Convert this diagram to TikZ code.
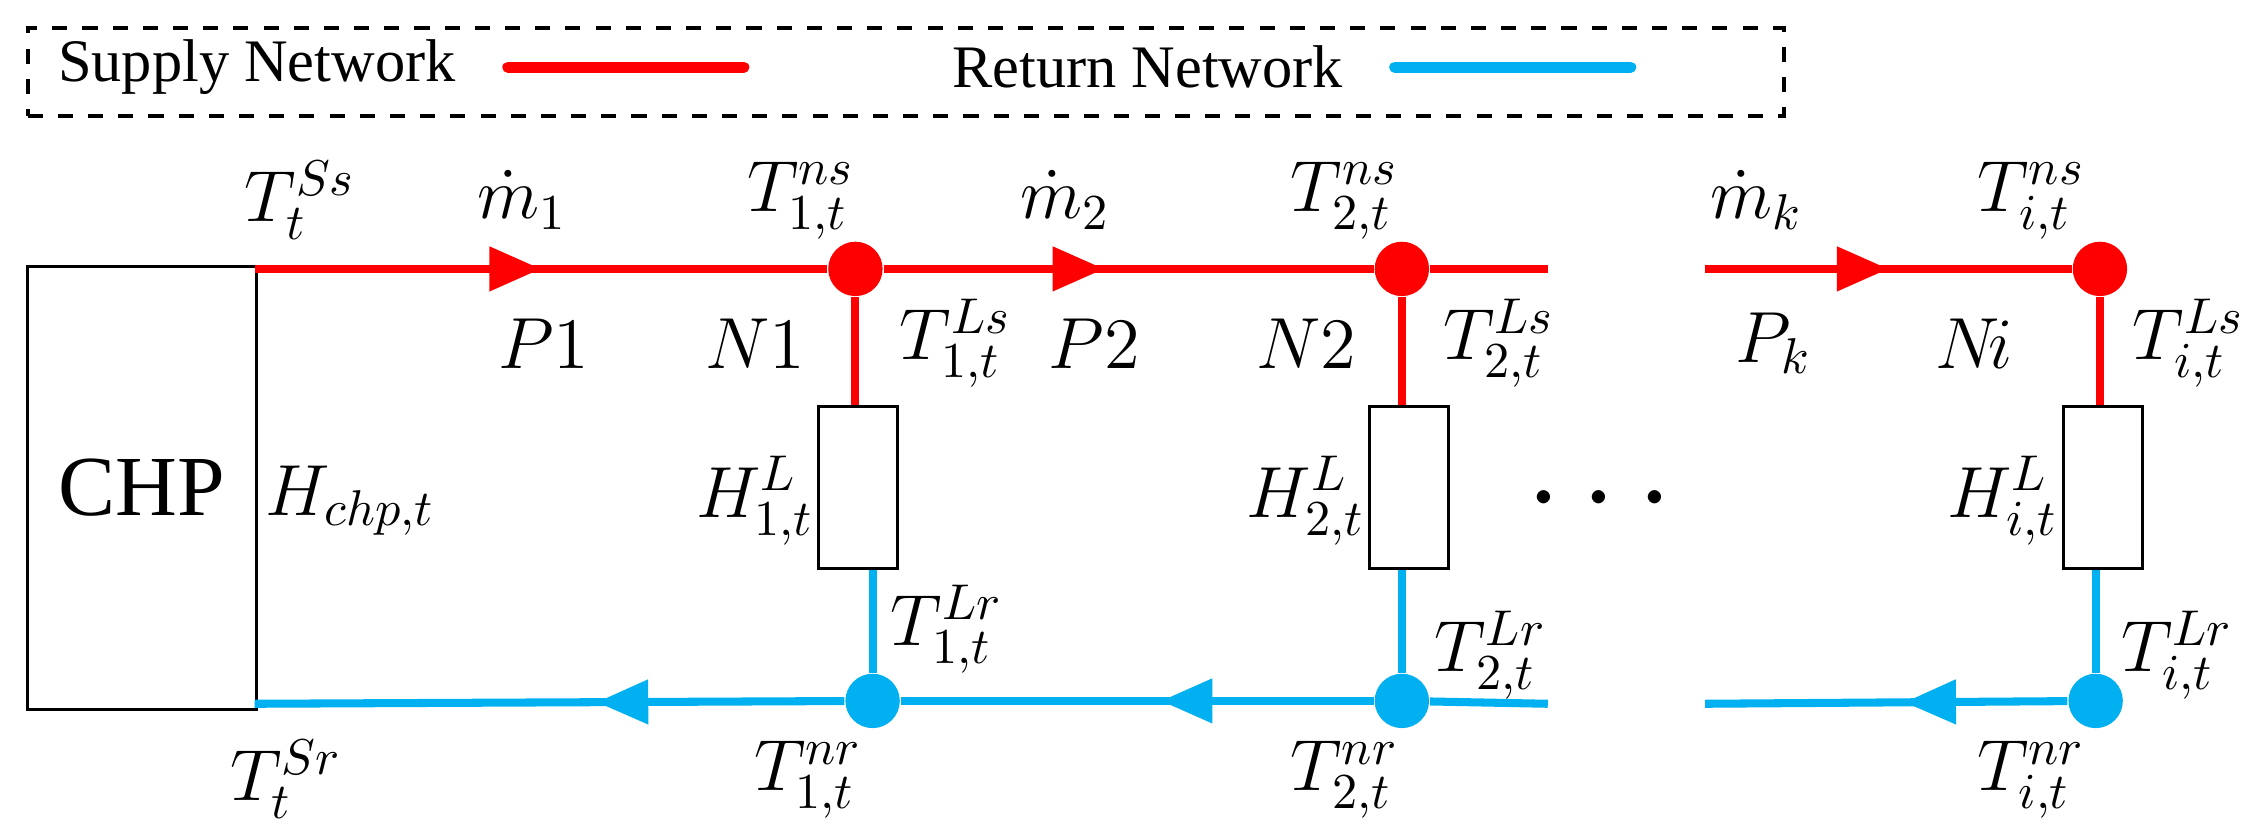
\documentclass[tikz,border=0pt]{standalone}
\usepackage{fontspec}
\setmainfont{Liberation Serif}
\usetikzlibrary{arrows.meta,decorations.markings}
\definecolor{sred}{HTML}{FF0000}
\definecolor{rblue}{HTML}{00B0F0}
\begin{document}
\begin{tikzpicture}[x=0.01cm,y=-0.01cm,
 sup/.style={sred,line width=1.6pt},
 ret/.style={rblue,line width=1.6pt},
 lab/.style={font=\fontsize{14}{16}\selectfont,inner sep=0pt},
 dot/.style={circle,minimum size=0.38cm,inner sep=0pt},
 load/.style={draw,line width=0.6pt,minimum width=0.55cm,minimum height=1.13cm,inner sep=0pt},
 arr/.style={postaction={decorate},decoration={markings,mark=at position #1 with {\arrow{Triangle[length=0.36cm,width=0.3cm]}}}}]
\useasboundingbox (0,0) rectangle (1568,580);
% legend
\node[draw,dashed,line width=0.8pt,minimum width=12.27cm,minimum height=0.62cm,anchor=north west] (leg) at (18,18) {};
\node[font=\fontsize{12}{14}\selectfont,anchor=west,inner sep=0pt] (ts) at (40,47) {Supply Network};
\coordinate (s1) at (355,47); \coordinate (s2) at (520,47);
\draw[sup,line cap=round,line width=2.2pt] (s1) -- (s2);
\node[font=\fontsize{12}{14}\selectfont,anchor=west,inner sep=0pt] (tr) at (665,47) {Return Network};
\coordinate (r1) at (975,47); \coordinate (r2) at (1140,47);
\draw[ret,line cap=round,line width=2.2pt] (r1) -- (r2);
% CHP
\node[draw,line width=0.6pt,minimum width=1.6cm,minimum height=3.1cm,anchor=north west] (chp) at (18,185) {};
\node[font=\fontsize{17}{19}\selectfont] at (chp.center) {CHP};
% nodes
\node[dot,fill=sred] (n1) at (598,188) {};
\node[dot,fill=sred] (n2) at (980,188) {};
\node[dot,fill=sred] (ni) at (1468,188) {};
\node[dot,fill=rblue] (m1) at (610,490) {};
\node[dot,fill=rblue] (m2) at (980,490) {};
\node[dot,fill=rblue] (mi) at (1465,490) {};
\node[load] (l1) at (600,341) {};
\node[load] (l2) at (985,341) {};
\node[load] (li) at (1470,341) {};
\coordinate (cs) at (178,188); \coordinate (cr) at (178,492);
\coordinate (e1) at (1082,188); \coordinate (e2) at (1192,188);
\coordinate (f1) at (1082,492); \coordinate (f2) at (1192,492);
% supply
\draw[sup,arr=0.5] (cs) -- (n1);
\draw[sup,arr=0.45] (n1) -- (n2);
\draw[sup] (n2) -- (e1);
\draw[sup,arr=0.5] (e2) -- (ni);
\draw[sup] (n1) -- (l1.north -| n1);
\draw[sup] (n2) -- (l2.north -| n2);
\draw[sup] (ni) -- (li.north -| ni);
% return
\draw[ret,arr=0.42] (m1) -- (cr);
\draw[ret,arr=0.45] (m2) -- (m1);
\draw[ret] (f1) -- (m2);
\draw[ret,arr=0.45] (mi) -- (f2);
\draw[ret] (l1.south -| m1) -- (m1);
\draw[ret] (l2.south -| m2) -- (m2);
\draw[ret] (li.south -| mi) -- (mi);
% labels
\node[lab] at (210,140) {$T_t^{Ss}$};
\node[lab] at (365,140) {$\dot m_1$};
\node[lab] at (560,140) {$T_{1,t}^{ns}$};
\node[lab] at (745,140) {$\dot m_2$};
\node[lab] at (940,140) {$T_{2,t}^{ns}$};
\node[lab] at (1228,140) {$\dot m_k$};
\node[lab] at (1420,140) {$T_{i,t}^{ns}$};
\node[lab] at (380,240) {$P1$};
\node[lab] at (528,240) {$N1$};
\node[lab] at (668,240) {$T_{1,t}^{Ls}$};
\node[lab] at (765,240) {$P2$};
\node[lab] at (913,240) {$N2$};
\node[lab] at (1048,240) {$T_{2,t}^{Ls}$};
\node[lab] at (1240,240) {$P_k$};
\node[lab] at (1380,240) {$N\!i$};
\node[lab] at (1530,240) {$T_{i,t}^{Ls}$};
\node[lab] at (245,350) {$H_{chp,t}$};
\node[lab] at (528,350) {$H_{1,t}^{L}$};
\node[lab] at (913,350) {$H_{2,t}^{L}$};
\node[lab,font=\fontsize{26}{28}\selectfont] at (1118,350) {$\cdots$};
\node[lab] at (1400,350) {$H_{i,t}^{L}$};
\node[lab] at (662,440) {$T_{1,t}^{Lr}$};
\node[lab] at (1042,458) {$T_{2,t}^{Lr}$};
\node[lab] at (1522,458) {$T_{i,t}^{Lr}$};
\node[lab] at (200,545) {$T_t^{Sr}$};
\node[lab] at (565,545) {$T_{1,t}^{nr}$};
\node[lab] at (940,545) {$T_{2,t}^{nr}$};
\node[lab] at (1420,545) {$T_{i,t}^{nr}$};
\end{tikzpicture}
\end{document}
